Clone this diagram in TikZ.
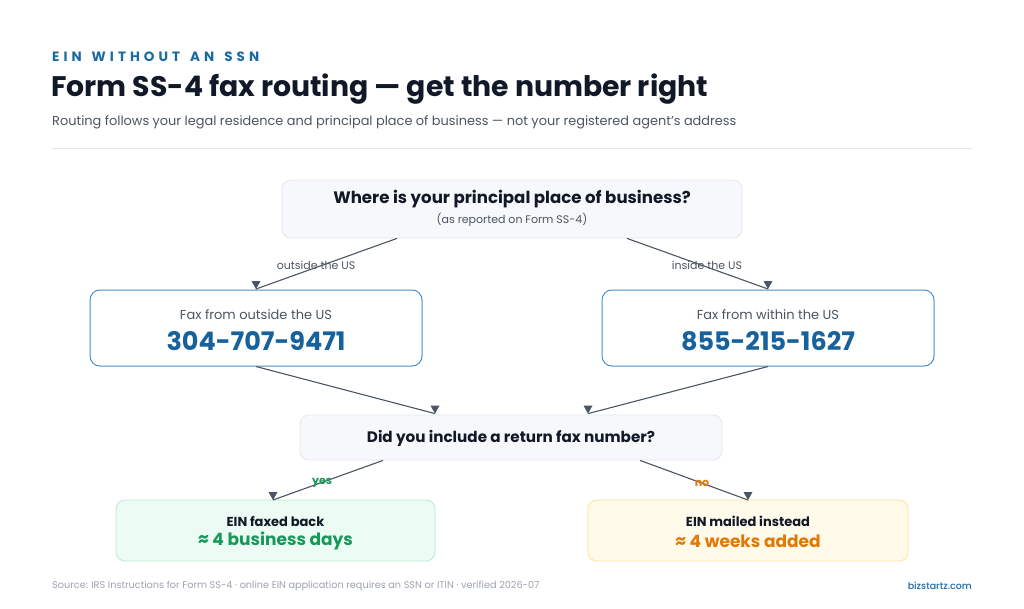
\documentclass[tikz,border=0pt]{standalone}
\usepackage{fontspec}
\setmainfont{Poppins}
\newfontfamily\medfont{Poppins Medium}
\usetikzlibrary{calc}
\definecolor{ink}{HTML}{111827}
\definecolor{gtext}{HTML}{4B5563}
\definecolor{lgray}{HTML}{9CA3AF}
\definecolor{brand}{HTML}{1A6AA3}
\definecolor{numblue}{HTML}{17629C}
\definecolor{boxblue}{HTML}{4A90C2}
\definecolor{qfill}{HTML}{F7F8FB}
\definecolor{qdraw}{HTML}{E2E6EE}
\definecolor{gfill}{HTML}{ECFBF3}
\definecolor{gdraw}{HTML}{B4EDCD}
\definecolor{gtxt}{HTML}{17995A}
\definecolor{yfill}{HTML}{FFFAEA}
\definecolor{ydraw}{HTML}{FCE59A}
\definecolor{otxt}{HTML}{E07A05}
\definecolor{conn}{HTML}{4B5563}
\definecolor{rule}{HTML}{E5E7EB}
\tikzset{
  qbox/.style={draw=qdraw, fill=qfill, rounded corners=9pt, line width=0.8pt, align=center, inner sep=0pt},
  faxbox/.style={draw=boxblue, fill=white, rounded corners=10pt, line width=1pt, align=center, inner sep=0pt, minimum width=332pt, minimum height=76pt},
  okbox/.style={draw=gdraw, fill=gfill, rounded corners=9pt, line width=0.8pt, align=center, inner sep=0pt, minimum width=319pt, minimum height=61pt},
  warnbox/.style={draw=ydraw, fill=yfill, rounded corners=9pt, line width=0.8pt, align=center, inner sep=0pt, minimum width=320pt, minimum height=61pt},
  connector/.style={draw=conn, line width=1.1pt},
  elabel/.style={font=\fontsize{11}{13}\selectfont, text=gtext, inner sep=0pt}
}
\newcommand{\dtip}[1]{\fill[conn] (#1) -- ++(-4.5,-8) -- ++(9,0) -- cycle;}
\newcommand{\wgap}{\hspace*{10pt}}
\begin{document}
\begin{tikzpicture}[x=1pt,y=-1pt]
\useasboundingbox[fill=white] (0,0) rectangle (1024,608);
% header
\node[anchor=west, inner sep=0pt, text=brand, font=\fontsize{13.5}{16}\selectfont\bfseries\addfontfeatures{LetterSpace=30}] (eyebrow) at (52,57) {EIN\wgap WITHOUT\wgap AN\wgap SSN};
\node[anchor=west, inner sep=0pt, text=ink, font=\fontsize{28.3}{32}\selectfont\bfseries] (title) at (51,89) {Form SS-4 fax routing — get the number right};
\node[anchor=west, inner sep=0pt, text=gtext, font=\fontsize{12.9}{15}\selectfont] (subtitle) at (52,122) {Routing follows your legal residence and principal place of business — not your registered agent’s address};
\draw[rule, line width=0.8pt] (52,148) -- (972,148);
% nodes
\node[qbox, minimum width=460pt, minimum height=58pt] (top) at (512,209) {};
\node[inner sep=0pt, text=ink, font=\fontsize{16.6}{20}\selectfont\bfseries] (topq) at (512,199) {Where is your principal place of business?};
\node[inner sep=0pt, text=gtext, font=\fontsize{11}{13}\selectfont] (topsub) at (512,220) {(as reported on Form SS-4)};

\node[faxbox] (left) at (256,328) {};
\node[inner sep=0pt, text=gtext, font=\fontsize{13}{15}\selectfont] (leftl) at (256,315) {Fax from outside the US};
\node[inner sep=0pt, text=numblue, font=\fontsize{25.5}{30}\selectfont\bfseries] (leftn) at (256,341) {304-707-9471};

\node[faxbox] (right) at (768,328) {};
\node[inner sep=0pt, text=gtext, font=\fontsize{13}{15}\selectfont] (rightl) at (768,315) {Fax from within the US};
\node[inner sep=0pt, text=numblue, font=\fontsize{25.5}{30}\selectfont\bfseries] (rightn) at (768,341) {855-215-1627};

\node[qbox, minimum width=422pt, minimum height=45pt] (mid) at (511,437.5) {};
\node[inner sep=0pt, text=ink, font=\fontsize{15.2}{18}\selectfont\bfseries] (midq) at (511,438) {Did you include a return fax number?};

\node[okbox] (yes) at (275.5,530.5) {};
\node[inner sep=0pt, text=ink, font=\fontsize{13}{15}\selectfont\bfseries] (yesl) at (275.5,521) {EIN faxed back};
\node[inner sep=0pt, text=gtxt, font=\fontsize{17}{20}\selectfont\bfseries] (yesv) at (275.5,541) {≈ 4 business days};

\node[warnbox] (no) at (748,530.5) {};
\node[inner sep=0pt, text=ink, font=\fontsize{13}{15}\selectfont\bfseries] (nol) at (748,521) {EIN mailed instead};
\node[inner sep=0pt, text=otxt, font=\fontsize{17}{20}\selectfont\bfseries] (nov) at (748,541) {≈ 4 weeks added};

% connectors
\coordinate (t1) at (256,289);
\coordinate (t2) at (768,289);
\coordinate (m1) at ($(mid.north)+(-76,-1)$);
\coordinate (m2) at ($(mid.north)+(77,-1)$);
\coordinate (y1) at (273,500);
\coordinate (n1) at (748,500);
\draw[connector] ($(top.south)+(-115,0)$) -- (t1); \dtip{t1}
\draw[connector] ($(top.south)+(115,0)$) -- (t2); \dtip{t2}
\draw[connector] (left.south) -- (m1); \dtip{m1}
\draw[connector] (right.south) -- (m2); \dtip{m2}
\draw[connector] ($(mid.south)+(-128,0)$) -- (y1); \dtip{y1}
\draw[connector] ($(mid.south)+(129,0)$) -- (n1); \dtip{n1}
\node[elabel] (lout) at (316,265) {outside the US};
\node[elabel] (lin) at (707,265) {inside the US};
\node[elabel, text=gtxt, font=\fontsize{11}{13}\selectfont\bfseries] (lyes) at (322,483) {yes};
\node[elabel, text=otxt, font=\fontsize{11}{13}\selectfont\bfseries] (lno) at (702,483) {no};
% footer
\node[anchor=west, inner sep=0pt, text=lgray, font=\fontsize{9.7}{12}\selectfont] (src) at (52,586) {Source: IRS Instructions for Form SS-4 · online EIN application requires an SSN or ITIN · verified 2026-07};
\node[anchor=east, inner sep=0pt, text=brand, font=\fontsize{9.5}{12}\selectfont\medfont] (site) at (972,586) {bizstartz.com};
\end{tikzpicture}
\end{document}
